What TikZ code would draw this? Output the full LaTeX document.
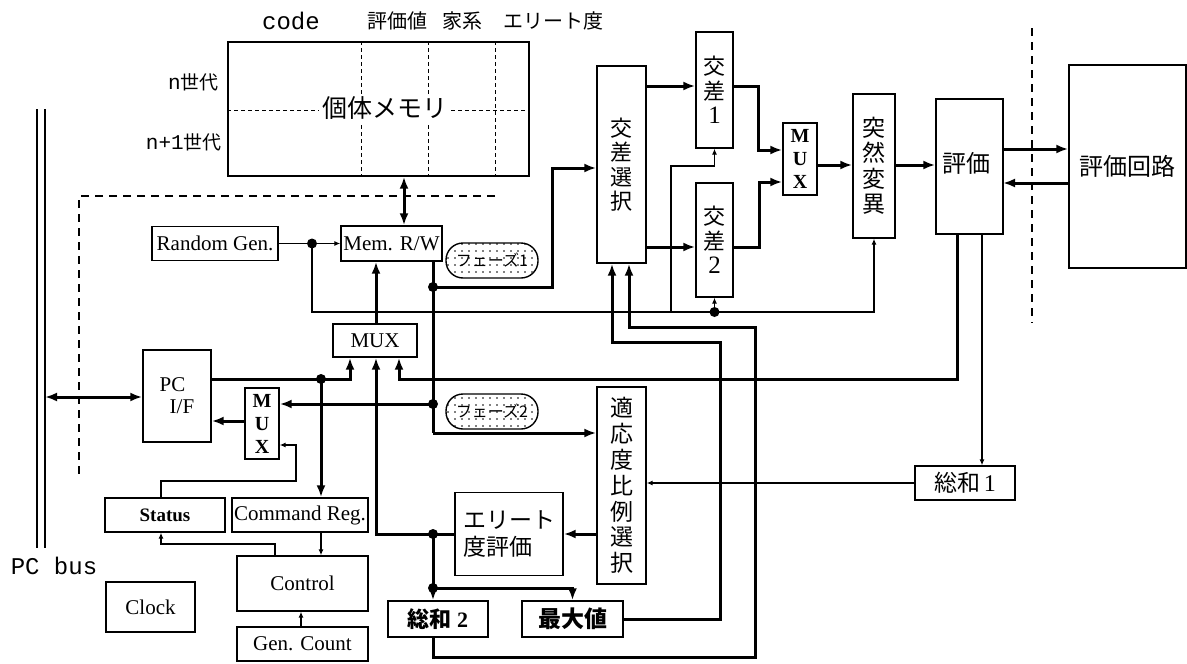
\documentclass[tikz,border=0pt]{standalone}
\usepackage{fontspec}
\setmainfont{Liberation Serif}
\setmonofont{Liberation Mono}
\newfontfamily\jp{Noto Sans CJK JP}
\usetikzlibrary{arrows.meta,patterns.meta,calc}
\begin{document}
\begin{tikzpicture}[x=1pt,y=-1pt,
  blk/.style={draw,line width=1.4pt,inner sep=0pt,align=center,font=\fontsize{21}{23}\selectfont},
  jpb/.style={blk,font=\jp\fontsize{22}{24.5}\selectfont},
  thk/.style={line width=3pt},
  thn/.style={line width=1.1pt},
  ta/.style={-{Latex[length=12pt,width=9pt]}},
  tab/.style={{Latex[length=12pt,width=9pt]}-{Latex[length=12pt,width=9pt]}},
  tn/.style={-{Latex[length=6pt,width=5pt]}},
  bnd/.style={line width=1.3pt,dash pattern=on 8pt off 6pt},
  idash/.style={line width=1pt,dash pattern=on 4pt off 3pt},
  phase/.style={draw,line width=1.4pt,rounded corners=17pt,minimum width=92pt,minimum height=35pt,
    pattern={Dots[distance=7pt,radius=0.8pt]},font=\jp\fontsize{16}{16}\selectfont},
  lbl/.style={inner sep=0pt}
]
\useasboundingbox (0,0) rectangle (1187,664);

% ---------- nodes ----------
\node[blk,minimum width=301pt,minimum height=134pt] (mem) at (378.5,109) {};
\draw[idash] ($(mem.north west)+(134,0)$) -- ($(mem.south west)+(134,0)$);
\draw[idash] ($(mem.north west)+(201,0)$) -- ($(mem.south west)+(201,0)$);
\draw[idash] ($(mem.north west)+(268,0)$) -- ($(mem.south west)+(268,0)$);
\draw[idash] ([yshift=-1pt]mem.west) -- ([yshift=-1pt]mem.east);
\node[fill=white,inner sep=3pt,font=\jp\fontsize{25}{25}\selectfont] (memtxt) at (384.5,108) {個体メモリ};

\node[lbl,font=\ttfamily\fontsize{24}{24}\selectfont] (lcode) at (291,21) {code};
\node[lbl,font=\jp\fontsize{20}{20}\selectfont] (lhyo) at (397,21) {評価値};
\node[lbl,font=\jp\fontsize{20}{20}\selectfont] (lkak) at (462,21) {家系};
\node[lbl,font=\jp\fontsize{20}{20}\selectfont] (lel) at (553,21) {エリート度};
\node[lbl,anchor=east,font=\jp\fontsize{19}{19}\selectfont] (ln) at (219,82) {{\ttfamily\fontsize{21}{21}\selectfont n}世代};
\node[lbl,anchor=east,font=\jp\fontsize{19}{19}\selectfont] (ln1) at (222,142) {{\ttfamily\fontsize{21}{21}\selectfont n+1}世代};
\node[lbl,font=\ttfamily\fontsize{24}{24}\selectfont] (lbus) at (54,566) {PC bus};

\node[blk,minimum width=126pt,minimum height=34pt] (randgen) at (215,243.5) {Random Gen.};
\node[blk,minimum width=101pt,minimum height=35pt] (memrw) at (391.5,243.5) {Mem. R/W};
\node[blk,minimum width=84pt,minimum height=33pt] (mux1) at (375,340.5) {MUX};
\node[blk,minimum width=68pt,minimum height=92pt,align=left] (pcif) at (177,396) {PC\\[-1pt]\hspace*{10pt}I/F};
\node[blk,minimum width=34pt,minimum height=71pt,font=\bfseries\fontsize{20}{23}\selectfont] (mux2s) at (262,423.5) {M\\U\\X};
\node[phase] (ph1) at (492,260.5) {フェーズ1};
\node[phase] (ph2) at (492,411.5) {フェーズ2};

\node[jpb,minimum width=49pt,minimum height=197pt] (kosel) at (621.5,164.5) {交\\差\\選\\択};
\node[jpb,minimum width=37pt,minimum height=116pt] (ko1) at (714.5,90) {交\\差\\{\rmfamily\fontsize{25}{25}\selectfont 1}};
\node[jpb,minimum width=37pt,minimum height=114pt] (ko2) at (714.5,240) {交\\差\\{\rmfamily\fontsize{25}{25}\selectfont 2}};
\node[blk,minimum width=34pt,minimum height=72pt,font=\bfseries\fontsize{20}{23}\selectfont] (muxr) at (800,159) {M\\U\\X};
\node[jpb,minimum width=42pt,minimum height=144pt,font=\jp\fontsize{23}{25.5}\selectfont] (mut) at (874,166) {突\\然\\変\\異};
\node[blk,minimum width=67pt,minimum height=135pt] (hyo) at (969.5,166.5) {};
\node[lbl,font=\jp\fontsize{24}{24}\selectfont] (hyotxt) at (966,163) {評価};
\node[jpb,minimum width=117pt,minimum height=203pt,font=\jp\fontsize{24}{24}\selectfont] (hyokai) at (1127.5,166.5) {評価回路};
\node[jpb,minimum width=100pt,minimum height=34pt,font=\jp\fontsize{23}{23}\selectfont] (sowa1) at (965,483) {総和\,{\rmfamily\fontsize{24}{24}\selectfont 1}};
\node[jpb,minimum width=49pt,minimum height=197pt,font=\jp\fontsize{23}{25.8}\selectfont] (tekio) at (621.5,485.5) {適\\応\\度\\比\\例\\選\\択};
\node[jpb,minimum width=108pt,minimum height=83pt,align=left,font=\jp\fontsize{23}{27}\selectfont] (elite) at (509,534) {エリート\\度評価};
\node[jpb,minimum width=100pt,minimum height=36pt,font=\jp\bfseries\fontsize{22}{22}\selectfont] (sowa2) at (438,619) {総和 {\rmfamily 2}};
\node[jpb,minimum width=101pt,minimum height=36pt,font=\jp\bfseries\fontsize{23}{23}\selectfont] (maxv) at (572.5,619) {最大値};

\node[blk,minimum width=120pt,minimum height=34pt,font=\bfseries\fontsize{19}{22}\selectfont] (status) at (165,515) {Status};
\node[blk,minimum width=136pt,minimum height=34pt] (cmd) at (300,515) {Command Reg.};
\node[blk,minimum width=131pt,minimum height=55pt] (ctrl) at (302.5,583.5) {Control};
\node[blk,minimum width=131pt,minimum height=34pt] (gen) at (302.5,644) {Gen. Count};
\node[blk,minimum width=89pt,minimum height=50pt] (clock) at (150.5,607) {Clock};

% ---------- bus and boundaries ----------
\draw[line width=1.2pt] (37,109) -- (37,548);
\draw[line width=1.2pt] (45,109) -- (45,548);
\draw[bnd] (495,196) -- (79,196) -- (79,475);
\draw[bnd] (1032,28) -- (1032,323);

% ---------- connectors ----------
\coordinate (rw1) at ([xshift=12.5pt]memrw.north);
\draw[thk,tab] (rw1) -- (rw1 |- mem.south);

\coordinate (j1) at (312,243.5);
\coordinate (r1) at (312,312);
\coordinate (r2) at (671,312);
\coordinate (r3) at (671,166);
\draw[thn,tn] (randgen.east) -- (memrw.west);
\draw[thn,tn] (j1) -- (r1) -| (mut.south);
\draw[thn,tn] (r2) -- (r3) -| (ko1.south);
\coordinate (j2) at (ko2.south |- r1);
\draw[thn,tn] (j2) -- (ko2.south);
\fill (j1) circle (5pt);
\fill (j2) circle (5pt);

\coordinate (m0) at ([xshift=41.5pt]memrw.south);
\coordinate (p1) at (433,287);
\coordinate (p2) at (433,404);
\coordinate (p3) at (433,433);
\coordinate (b1) at (552,168);
\draw[thk] (m0) -- (p3);
\draw[thk,ta] (p3) -- (p3 -| tekio.west);
\draw[thk,ta] (p1) -| (b1) -- (b1 -| kosel.west);
\draw[thk,ta] (p2) -- (p2 -| mux2s.east);
\fill (p1) circle (5pt);
\fill (p2) circle (5pt);

\draw[thk,ta] ([xshift=1pt]mux1.north) -- ([xshift=1pt]mux1.north |- memrw.south);

\coordinate (busr) at (45,397);
\draw[thk,tab] (busr) -- (busr -| pcif.west);
\coordinate (q0) at (211,379);
\coordinate (q1) at (321,379);
\coordinate (q2) at (350,379);
\draw[thk,ta] (q0) -- (q2) -- (q2 |- mux1.south);
\draw[thk,ta] (q1) -- (q1 |- cmd.north);
\fill (q1) circle (5pt);
\coordinate (s0) at (245,421);
\draw[thk,ta] (s0) -- (s0 -| pcif.east);

\coordinate (dE) at (433,534);
\coordinate (e1) at (376,534);
\draw[thk,ta] (elite.west) -- (e1) -- (e1 |- mux1.south);
\coordinate (dF) at (433,588);
\draw[thk,ta] (dE) -- (dF) -- (dF |- sowa2.north);
\draw[thk,ta] (dF) -| (maxv.north);
\fill (dE) circle (5pt);
\fill (dF) circle (5pt);

\coordinate (h1) at ([xshift=-12.5pt]hyo.south);
\coordinate (h2) at (h1 |- q0);
\coordinate (h3) at (399,379);
\draw[thk,ta] (h1) -- (h2) -- (h3) -- (h3 |- mux1.south);
\coordinate (h4) at ([xshift=12.5pt]hyo.south);
\draw[thn,tn] (h4) -- (h4 |- sowa1.north);
\draw[thn,tn] (sowa1.west) -- (sowa1.west -| tekio.east);
\draw[thk,ta] (tekio.west |- elite.east) -- (elite.east);

\coordinate (g1) at (720,619);
\coordinate (g2) at (720,342);
\coordinate (g3) at (612,342);
\draw[thk,ta] (maxv.east) -- (g1) -- (g2) -- (g3) -- (g3 |- kosel.south);
\coordinate (k0) at (433,637);
\coordinate (k1) at (433,657);
\coordinate (k2) at (755,657);
\coordinate (k3) at (755,327);
\coordinate (k4) at (629,327);
\draw[thk,ta] (k0) -- (k1) -- (k2) -- (k3) -- (k4) -- (k4 |- kosel.south);

\coordinate (c1) at (646,86);
\draw[thk,ta] (c1) -- (c1 -| ko1.west);
\coordinate (c2) at (646,247);
\draw[thk,ta] (c2) -- (c2 -| ko2.west);
\coordinate (c3) at (733,86);
\coordinate (c4) at (758,86);
\coordinate (c5) at (758,150);
\draw[thk,ta] (c3) -- (c4) -- (c5) -- (c5 -| muxr.west);
\coordinate (c6) at (733,247);
\coordinate (c7) at (759,247);
\coordinate (c8) at (759,182);
\draw[thk,ta] (c6) -- (c7) -- (c8) -- (c8 -| muxr.west);
\coordinate (c9) at (817,165);
\draw[thk,ta] (c9) -- (c9 -| mut.west);
\draw[thk,ta] (c9 -| mut.east) -- (c9 -| hyo.west);
\coordinate (c10) at (1003,149);
\draw[thk,ta] (c10) -- (c10 -| hyokai.west);
\coordinate (c11) at (1003,183);
\draw[thk,ta] (c11 -| hyokai.west) -- (c11);

\coordinate (t0) at (161,498);
\coordinate (t1) at (161,481);
\coordinate (t2) at (296,481);
\coordinate (t3) at (296,445);
\draw[thn,tn] (t0) -- (t1) -- (t2) -- (t3) -- (t3 -| mux2s.east);
\coordinate (u0) at (275,556);
\coordinate (u1) at (275,544);
\coordinate (u2) at (161,544);
\draw[thn,tn] (u0) -- (u1) -- (u2) -- (u2 |- status.south);
\coordinate (v0) at (321,532);
\draw[thn,tn] (v0) -- (v0 |- ctrl.north);
\coordinate (w0) at (301,627);
\draw[thn,tn] (w0) -- (w0 |- ctrl.south);
\end{tikzpicture}
\end{document}
